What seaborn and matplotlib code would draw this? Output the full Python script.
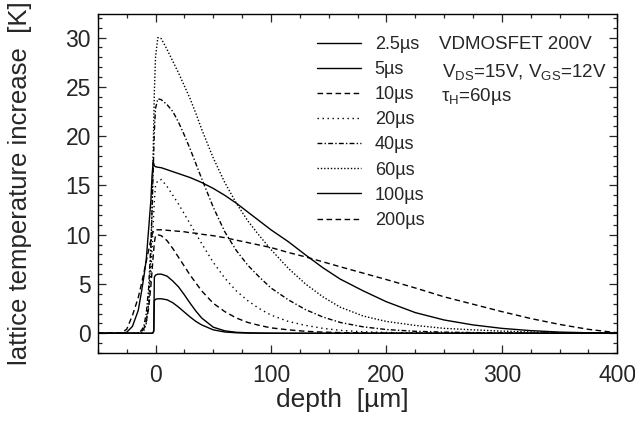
import pandas as pd
import matplotlib
matplotlib.use('Agg')
import matplotlib.pyplot as plt
from matplotlib.ticker import MultipleLocator
import seaborn as sns

# depth grid [um] and temperature rise [K] for each pulse time
depth = [-50, -35, -30, -25, -20, -15, -12, -10, -8, -6, -4, -3, -2, -1.5, -1,
         0, 2, 5, 10, 15, 20, 25, 30, 35, 40, 50, 60, 70, 80, 90,
         100, 115, 130, 145, 160, 180, 200, 225, 250, 275, 300, 325, 350, 375, 400]

t_2_5us = [0, 0, 0, 0, 0, 0, 0, 0, 0, 0, 0, 0, 0.05, 0.2, 3.3,
           3.45, 3.5, 3.5, 3.4, 3.1, 2.65, 2.15, 1.65, 1.2, 0.85, 0.35, 0.13, 0.05, 0.02, 0.01,
           0, 0, 0, 0, 0, 0, 0, 0, 0, 0, 0, 0, 0, 0, 0]
t_5us = [0, 0, 0, 0, 0, 0, 0, 0, 0, 0, 0, 0, 0.1, 0.3, 5.7,
         5.9, 6.0, 6.0, 5.8, 5.3, 4.7, 3.9, 3.05, 2.25, 1.55, 0.62, 0.25, 0.1, 0.05, 0.02,
         0.01, 0, 0, 0, 0, 0, 0, 0, 0, 0, 0, 0, 0, 0, 0]
t_10us = [0, 0, 0, 0, 0, 0, 0.2, 0.5, 1.2, 2.5, 4.8, 6.3, 7.8, 8.5, 9.2,
          9.9, 10.0, 9.9, 9.4, 8.6, 7.7, 6.8, 5.9, 5.1, 4.3, 3.05, 2.2, 1.55, 1.1, 0.8,
          0.55, 0.35, 0.2, 0.12, 0.07, 0.04, 0.02, 0, 0, 0, 0, 0, 0, 0, 0]
t_20us = [0, 0, 0, 0, 0, 0, 0.15, 0.5, 1.3, 3.0, 6.0, 8.5, 11.0, 12.3, 13.5,
          15.0, 15.5, 15.6, 14.9, 14.0, 13.1, 12.1, 11.1, 10.1, 9.1, 7.2, 5.6, 4.3, 3.3, 2.5,
          1.85, 1.2, 0.8, 0.5, 0.3, 0.15, 0.08, 0.04, 0.02, 0, 0, 0, 0, 0, 0]
t_40us = [0, 0, 0, 0, 0, 0.05, 0.3, 0.8, 2.0, 4.5, 9.0, 12.5, 16.5, 18.5, 20.5,
          22.8, 23.8, 23.7, 23.2, 22.5, 21.4, 20.1, 18.7, 17.2, 15.7, 12.8, 10.3, 8.4, 6.9, 5.7,
          4.6, 3.4, 2.4, 1.65, 1.1, 0.65, 0.38, 0.2, 0.12, 0.07, 0.04, 0.02, 0, 0, 0]
t_60us = [0, 0, 0, 0, 0, 0, 0.1, 0.3, 1.0, 3.0, 8.0, 12.5, 18.5, 21.5, 24.5,
          28.0, 30.0, 29.9, 28.8, 27.6, 26.4, 25.1, 23.8, 22.3, 20.7, 17.8, 15.3, 13.2, 11.4, 9.9,
          8.5, 6.6, 5.0, 3.7, 2.65, 1.75, 1.2, 0.8, 0.5, 0.35, 0.22, 0.13, 0.07, 0.04, 0.02]
t_100us = [0, 0, 0, 0.1, 0.7, 2.3, 4.3, 5.8, 7.5, 10.5, 13.5, 16.0, 17.4, 17.2, 17.0,
           16.9, 16.85, 16.8, 16.6, 16.4, 16.2, 16.0, 15.8, 15.55, 15.3, 14.7, 14.0, 13.2, 12.3, 11.4,
           10.5, 9.3, 7.95, 6.65, 5.5, 4.3, 3.2, 2.1, 1.35, 0.85, 0.5, 0.27, 0.12, 0.05, 0.02]
t_200us = [0, 0, 0.02, 0.4, 1.8, 3.6, 5.1, 6.2, 7.3, 8.4, 9.5, 10.0, 10.3, 10.4, 10.45,
           10.5, 10.5, 10.5, 10.45, 10.4, 10.35, 10.3, 10.2, 10.15, 10.05, 9.9, 9.7, 9.45, 9.2, 8.95,
           8.7, 8.2, 7.75, 7.25, 6.75, 6.1, 5.45, 4.6, 3.7, 2.95, 2.2, 1.5, 0.9, 0.4, 0.05]

labels = ['2.5µs', '5µs', '10µs', '20µs', '40µs', '60µs', '100µs', '200µs']
series = [t_2_5us, t_5us, t_10us, t_20us, t_40us, t_60us, t_100us, t_200us]
styles = ['-', '-', (0, (4, 2.5)), (0, (1, 2.6)), (0, (3.5, 1.6, 1, 1.6)),
          (0, (1, 1.4)), '-', (0, (4, 2.5))]

sns.set_style('ticks')
plt.rcParams['font.family'] = ['Liberation Sans', 'DejaVu Sans']
plt.rcParams['mathtext.fontset'] = 'custom'
plt.rcParams['mathtext.rm'] = 'Liberation Sans'
plt.rcParams['mathtext.it'] = 'Liberation Sans:italic'

fig, ax = plt.subplots(figsize=(6.35, 4.23), dpi=100)
fig.subplots_adjust(left=0.154, right=0.972, top=0.967, bottom=0.1655)

for lab, vals, ls in zip(labels, series, styles):
    df = pd.DataFrame({'depth': depth, 'dT': vals})
    sns.lineplot(data=df, x='depth', y='dT', ax=ax, color='black', linewidth=1.0,
                 linestyle=ls, label=lab, estimator=None, errorbar=None, legend=False)

ax.set_xlim(-50, 400)
ax.set_ylim(-2, 32.4)
ax.xaxis.set_major_locator(MultipleLocator(100))
ax.xaxis.set_minor_locator(MultipleLocator(25))
ax.yaxis.set_major_locator(MultipleLocator(5))
ax.yaxis.set_minor_locator(MultipleLocator(1))
ax.tick_params(which='both', direction='in', top=True, right=True, width=0.9)
ax.tick_params(which='major', length=5.5)
ax.tick_params(which='minor', length=3)
ax.tick_params(axis='x', which='major', labelsize=16.5, pad=8)
ax.tick_params(axis='y', which='major', labelsize=16.5, pad=5)
for sp in ax.spines.values():
    sp.set_linewidth(1.0)
    sp.set_color('black')

ax.set_xlabel('depth  [µm]', fontsize=19)
ax.set_ylabel('lattice temperature increase  [K]', fontsize=18.5)
ax.xaxis.set_label_coords(0.471, -0.102)
ax.yaxis.set_label_coords(-0.127, 0.5)

ax.legend(loc='upper left', bbox_to_anchor=(0.422, 0.935), frameon=False,
          fontsize=13, handlelength=2.45, handletextpad=0.75, labelspacing=0.45,
          borderaxespad=0, borderpad=0)

ax.text(246, 28.8, 'VDMOSFET 200V', fontsize=13.5, va='baseline')
ax.text(248, 26.0, r'V$_{\rm DS}$=15V, V$_{\rm GS}$=12V', fontsize=13.5, va='baseline')
ax.text(247, 23.6, r'τ$_{\rm H}$=60µs', fontsize=13.5, va='baseline')

fig.savefig('out.png', dpi=100)
